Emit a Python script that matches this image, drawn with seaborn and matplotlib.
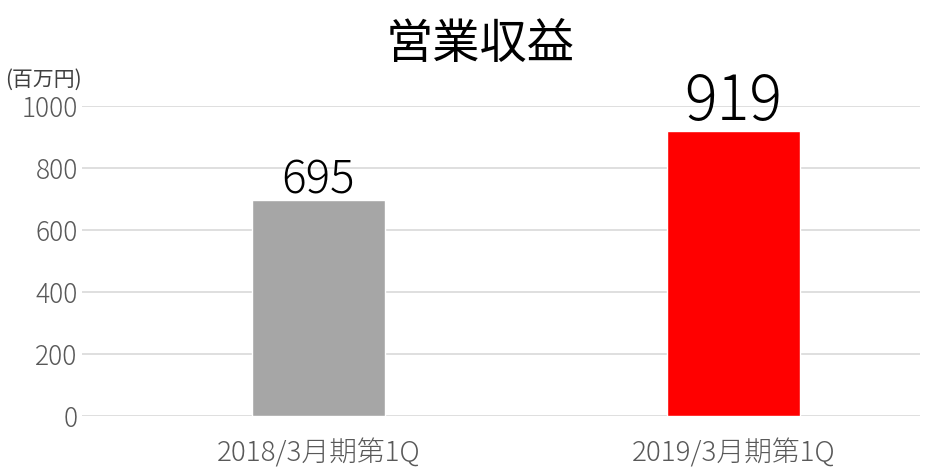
import pandas as pd
import matplotlib
matplotlib.use("Agg")
import matplotlib.pyplot as plt
import seaborn as sns

# データ
categories = ['2018/3月期第1Q', '2019/3月期第1Q']
values = [695, 919]
bar_colors = ['#a6a6a6', '#ff0000']

df = pd.DataFrame({'期間': categories, '営業収益': values})

sns.set_style('white')
plt.rcParams['font.family'] = ['Noto Sans CJK JP', 'DejaVu Sans']

fig = plt.figure(figsize=(9.31, 4.71), dpi=100)
ax = fig.add_axes([0.088, 0.117, 0.9, 0.658])

sns.barplot(x='期間', y='営業収益', data=df, hue='期間', palette=bar_colors,
            width=0.32, legend=False, ax=ax, zorder=3, saturation=1)

ax.set_ylim(0, 1000)
ax.set_xlim(-0.57, 1.45)
ax.set_yticks([0, 200, 400, 600, 800, 1000])
ax.grid(axis='y', color='#d9d9d9', linewidth=1.2, zorder=0)
ax.grid(axis='x', visible=False)
for s in ax.spines.values():
    s.set_visible(False)
ax.tick_params(axis='both', length=0, colors='#595959')
ax.tick_params(axis='y', labelsize=19, pad=3)
ax.tick_params(axis='x', labelsize=20, pad=16)
for lab in ax.get_xticklabels() + ax.get_yticklabels():
    lab.set_fontweight('light')
ax.set_xlabel('')
ax.set_ylabel('')

# 数値ラベル
label_sizes = [33, 44]
for i, v in enumerate(values):
    ax.text(i, v - 12, str(v), ha='center', va='bottom', fontsize=label_sizes[i],
            color='black', zorder=4, fontweight='light')

fig.text(0.516, 0.905, '営業収益', ha='center', va='center', fontsize=34, color='black')
fig.text(0.005, 0.83, '(百万円)', ha='left', va='center', fontsize=15, color='#404040')

fig.savefig('out.png', dpi=100)
